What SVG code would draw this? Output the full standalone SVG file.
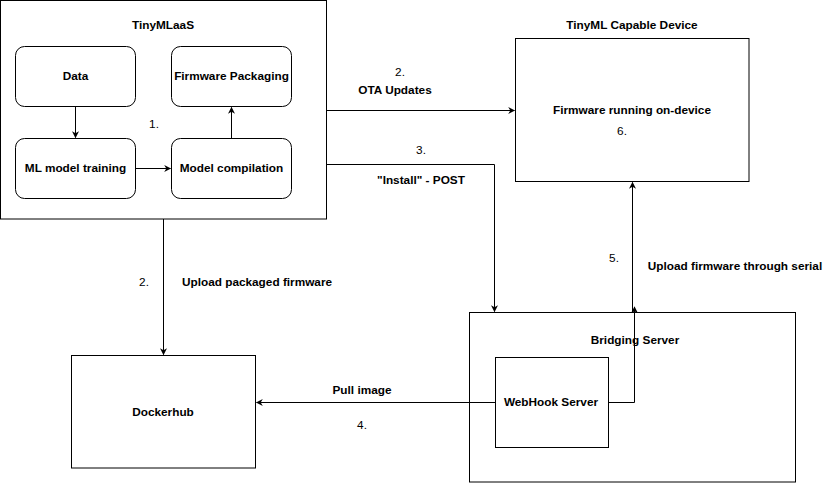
<svg xmlns="http://www.w3.org/2000/svg" width="833" height="483" viewBox="0 0 833 483">
<defs>
<marker id="ah" viewBox="0 0 10 10" refX="9" refY="5" markerWidth="7" markerHeight="7" orient="auto" markerUnits="userSpaceOnUse">
<path d="M0,0 L10,5 L0,10 L3,5 Z" fill="#000"/>
</marker>
</defs>
<style>
.box{fill:#fff;stroke:#000;stroke-width:1}
.t{font-family:"Liberation Sans",Arial,sans-serif;font-size:11.8px;font-weight:bold;fill:#000;text-anchor:middle}
.n{font-family:"Liberation Sans",Arial,sans-serif;font-size:11.8px;fill:#000;text-anchor:middle}
.c{fill:none;stroke:#000;stroke-width:1;marker-end:url(#ah)}
</style>
<rect width="833" height="483" fill="#fff"/>
<g id="tinymlaas">
<rect class="box" x="0.5" y="0.5" width="326" height="218.5"/>
<text class="t" x="163" y="29">TinyMLaaS</text>
</g>
<g id="data">
<rect class="box" x="15.5" y="46.5" width="120" height="60" rx="9"/>
<text class="t" x="75.5" y="80">Data</text>
</g>
<g id="firmware-packaging">
<rect class="box" x="171.5" y="46.5" width="120" height="60" rx="9"/>
<text class="t" x="231.5" y="80">Firmware Packaging</text>
</g>
<g id="ml-training">
<rect class="box" x="15.5" y="138.5" width="120" height="60" rx="9"/>
<text class="t" x="75.5" y="172">ML model training</text>
</g>
<g id="model-compilation">
<rect class="box" x="171.5" y="138.5" width="120" height="60" rx="9"/>
<text class="t" x="231.5" y="172">Model compilation</text>
</g>
<text class="n" x="154" y="128">1.</text>
<g id="device">
<text class="t" x="632" y="29">TinyML Capable Device</text>
<rect class="box" x="515.5" y="38.5" width="233.5" height="143"/>
<text class="t" x="632" y="114">Firmware running on-device</text>
<text class="n" x="622" y="135">6.</text>
</g>
<g id="bridging-server">
<rect class="box" x="469.5" y="312.5" width="326" height="169.5"/>
<text class="t" x="635" y="344">Bridging Server</text>
</g>
<g id="webhook-server">
<rect class="box" x="495.5" y="357.5" width="113" height="90"/>
<text class="t" x="551" y="406">WebHook Server</text>
</g>
<g id="dockerhub">
<rect class="box" x="71.5" y="355.5" width="184" height="112.5"/>
<text class="t" x="163" y="416">Dockerhub</text>
</g>
<g id="connectors">
<path class="c" d="M75.5,106.5 V137.5"/>
<path class="c" d="M135.5,168.5 H170.5"/>
<path class="c" d="M231.5,138.5 V107.5"/>
<path class="c" d="M326.5,110.5 H514.5"/>
<path class="c" d="M326.5,164.5 H494.5 V311.5"/>
<path class="c" d="M163.5,219 V354.5"/>
<path class="c" d="M495.5,402.5 H256.5"/>
<path class="c" d="M608.5,402.5 H634.5 V307"/>
<path class="c" d="M632.5,312 V182.5"/>
</g>
<g id="labels">
<text class="n" x="400" y="76">2.</text>
<text class="t" x="395" y="94">OTA Updates</text>
<text class="n" x="421" y="154">3.</text>
<text class="t" x="421" y="184">"Install" - POST</text>
<text class="n" x="144" y="286">2.</text>
<text class="t" x="257" y="286">Upload packaged firmware</text>
<text class="t" x="362" y="394">Pull image</text>
<text class="n" x="362" y="429">4.</text>
<text class="n" x="614" y="262">5.</text>
<text class="t" x="735" y="270">Upload firmware through serial</text>
</g>
</svg>
